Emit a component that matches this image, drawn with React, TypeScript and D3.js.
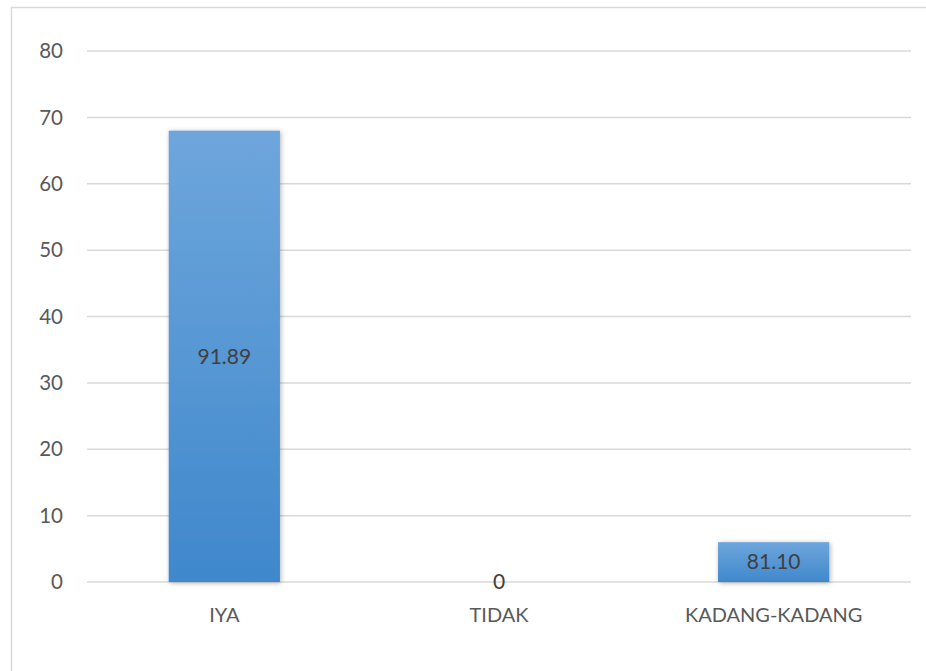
import React, { useEffect, useRef } from 'react';
import * as d3 from 'd3';

const categories = ['IYA', 'TIDAK', 'KADANG-KADANG'];
const values = [68, 0, 6];
const valueLabels = ['91.89', '0', '81.10'];
const yTicks = [0, 10, 20, 30, 40, 50, 60, 70, 80];

const W = 926;
const H = 671;

const App: React.FC = () => {
  const svgRef = useRef<SVGSVGElement>(null);

  useEffect(() => {
    if (!svgRef.current) return;
    const svg = d3.select(svgRef.current);
    svg.selectAll('*').remove();

    const left = 87, right = 911, top = 51, bottom = 582;
    const font = 'Lato, "Open Sans", sans-serif';
    const textColor = '#595959';

    const x = d3.scaleBand<string>().domain(categories).range([left, right]).padding(0);
    const y = d3.scaleLinear().domain([0, 80]).range([bottom, top]);
    const barW = x.bandwidth() * 0.405;

    const defs = svg.append('defs');
    const grad = defs.append('linearGradient')
      .attr('id', 'barGrad').attr('x1', 0).attr('y1', 0).attr('x2', 0).attr('y2', 1);
    grad.append('stop').attr('offset', '0%').attr('stop-color', '#6ea6dc');
    grad.append('stop').attr('offset', '100%').attr('stop-color', '#3f88cc');

    const shadow = defs.append('filter').attr('id', 'shadow')
      .attr('x', '-20%').attr('y', '-20%').attr('width', '140%').attr('height', '140%');
    shadow.append('feDropShadow')
      .attr('dx', 1).attr('dy', 1).attr('stdDeviation', 2.5)
      .attr('flood-color', '#000').attr('flood-opacity', 0.3);

    // chart border
    svg.append('rect')
      .attr('x', 11.5).attr('y', 7.5)
      .attr('width', W + 20).attr('height', H + 20)
      .attr('fill', '#fff').attr('stroke', '#d9d9d9').attr('stroke-width', 1.5);

    // gridlines
    svg.append('g').selectAll('line').data(yTicks).join('line')
      .attr('x1', left).attr('x2', right)
      .attr('y1', d => y(d)).attr('y2', d => y(d))
      .attr('stroke', '#d9d9d9').attr('stroke-width', 1.5);

    // y tick labels
    svg.append('g').selectAll('text').data(yTicks).join('text')
      .attr('x', 63).attr('y', d => y(d))
      .attr('dy', '0.35em')
      .attr('text-anchor', 'end')
      .attr('font-family', font).attr('font-size', 20.5)
      .attr('fill', textColor)
      .text(d => d);

    // bars
    svg.append('g').selectAll('rect').data(values).join('rect')
      .attr('x', (d, i) => x(categories[i])! + (x.bandwidth() - barW) / 2)
      .attr('y', d => y(d))
      .attr('width', barW)
      .attr('height', d => bottom - y(d))
      .attr('fill', 'url(#barGrad)')
      .attr('filter', 'url(#shadow)')
      .style('display', d => (d > 0 ? null : 'none'));

    // value labels
    svg.append('g').selectAll('text').data(values).join('text')
      .attr('x', (d, i) => x(categories[i])! + x.bandwidth() / 2)
      .attr('y', d => (y(d) + bottom) / 2)
      .attr('dy', '0.35em')
      .attr('text-anchor', 'middle')
      .attr('font-family', font).attr('font-size', 21)
      .attr('fill', '#404040')
      .text((d, i) => valueLabels[i]);

    // category labels
    svg.append('g').selectAll('text').data(categories).join('text')
      .attr('x', d => x(d)! + x.bandwidth() / 2)
      .attr('y', 615)
      .attr('dy', '0.35em')
      .attr('text-anchor', 'middle')
      .attr('font-family', font).attr('font-size', 20)
      .attr('fill', textColor)
      .text(d => d);
  }, []);

  return (
    <svg
      ref={svgRef}
      width={W}
      height={H}
      style={{ position: 'absolute', left: 0, top: 0, background: '#fff' }}
    />
  );
};

export default App;
